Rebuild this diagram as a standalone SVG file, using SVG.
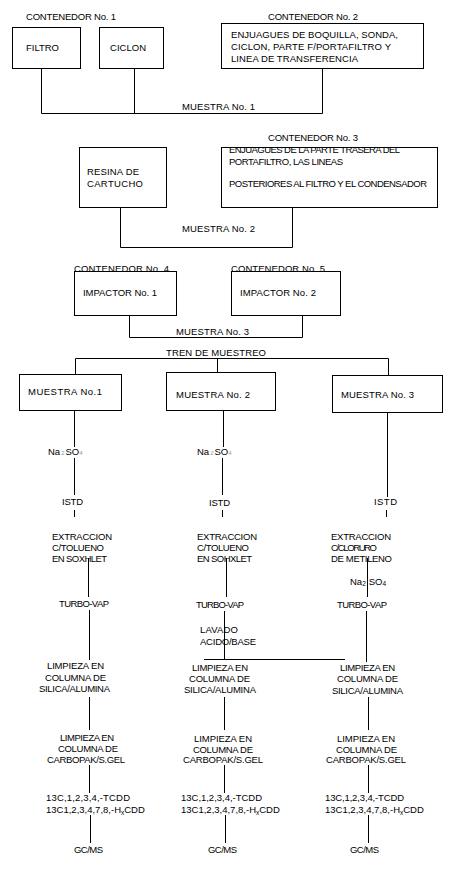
<svg xmlns="http://www.w3.org/2000/svg" width="457" height="880" viewBox="0 0 457 880">
<style>
.t{font-family:"Liberation Sans",Arial,sans-serif;font-size:9.5px;fill:#000}
.box{fill:none;stroke:#000;stroke-width:1}
.c{fill:none;stroke:#000;stroke-width:1}
.sub{font-size:6px;fill:#999}
.subk{font-size:6.5px;fill:#000}
</style>
<rect width="457" height="880" fill="#fff"/>
<g id="connectors">
<path class="c" d="M41.5 68 V113.5 H322.5 V68 M134.5 68 V113.5"/>
<path class="c" d="M120.5 207 V247.5 H292.5 V207"/>
<path class="c" d="M129.5 315 V337.5 H302.5 V315"/>
<path class="c" d="M75.5 374 V358.5 H388.5 V375 M217.5 358.5 V372"/>
<path class="c" d="M74.5 410 V447 M74.5 458 V495 M74.5 510 V517 M88.5 558 V597 M89.5 610 V660 M89.5 697 V730 M89.5 765 V793 M90.5 815 V843"/>
<path class="c" d="M223.5 410 V447 M222.5 458 V495 M222.5 510 V517 M226.5 558 V597 M224.5 611 V660 M224.5 697 V730 M224.5 765 V793 M225.5 815 V843"/>
<path class="c" d="M204 659.5 H345"/>
<path class="c" d="M387.5 412 V497 M386.5 510 V517 M367.5 558 V597 M366.5 611 V662 M368.5 697 V730 M368.5 765 V793 M368.5 815 V843"/>
</g>
<g id="lbl-contenedor1"><text class="t" x="26" y="20" textLength="90">CONTENEDOR No. 1</text></g>
<g id="filtro"><rect class="box" x="12.5" y="27.5" width="68" height="41"/><text class="t" x="26" y="51" textLength="33">FILTRO</text></g>
<g id="ciclon"><rect class="box" x="99.5" y="27.5" width="64" height="41"/><text class="t" x="110" y="51" textLength="36">CICLON</text></g>
<g id="lbl-contenedor2"><text class="t" x="268" y="20" textLength="90">CONTENEDOR No. 2</text></g>
<g id="enjuagues1"><rect class="box" x="221.5" y="23.5" width="202" height="45"/>
<text class="t" x="231" y="38" textLength="167">ENJUAGUES DE BOQUILLA, SONDA,</text>
<text class="t" x="231" y="50" textLength="160">CICLON, PARTE F/PORTAFILTRO Y</text>
<text class="t" x="231" y="62" textLength="127">LINEA DE TRANSFERENCIA</text></g>
<g id="lbl-muestra1"><text class="t" x="182" y="110" textLength="73">MUESTRA No. 1</text></g>
<g id="lbl-contenedor3"><text class="t" x="268" y="141" textLength="90">CONTENEDOR No. 3</text></g>
<g id="resina"><rect class="box" x="79.5" y="147.5" width="87" height="60"/>
<text class="t" x="87" y="175" textLength="52">RESINA DE</text>
<text class="t" x="87" y="187" textLength="56">CARTUCHO</text></g>
<g id="enjuagues2"><rect class="box" x="221.5" y="147.5" width="216" height="60"/>
<text class="t" x="229" y="153" textLength="171">ENJUAGUES DE LA PARTE TRASERA DEL</text>
<text class="t" x="229" y="165" textLength="114">PORTAFILTRO, LAS LINEAS</text>
<text class="t" x="229" y="187" textLength="198">POSTERIORES AL FILTRO Y EL CONDENSADOR</text></g>
<g id="lbl-muestra2"><text class="t" x="182" y="232" textLength="73">MUESTRA No. 2</text></g>
<g id="impactor1"><text class="t" x="74" y="272" textLength="95">CONTENEDOR No. 4</text><rect class="box" x="74.5" y="271.5" width="102" height="44"/><text class="t" x="83" y="296" textLength="74">IMPACTOR No. 1</text></g>
<g id="impactor2"><text class="t" x="231" y="272" textLength="94">CONTENEDOR No. 5</text><rect class="box" x="231.5" y="271.5" width="109" height="44"/><text class="t" x="240" y="296" textLength="76">IMPACTOR No. 2</text></g>
<g id="lbl-muestra3"><text class="t" x="176" y="335" textLength="73">MUESTRA No. 3</text></g>
<g id="lbl-tren"><text class="t" x="166" y="356" textLength="100">TREN DE MUESTREO</text></g>
<g id="muestra-a"><rect class="box" x="19.5" y="374.5" width="102" height="36"/><text class="t" x="28" y="395" textLength="74">MUESTRA No.1</text></g>
<g id="muestra-b"><rect class="box" x="166.5" y="372.5" width="109" height="38"/><text class="t" x="176" y="398" textLength="74">MUESTRA No. 2</text></g>
<g id="muestra-c"><rect class="box" x="332.5" y="375.5" width="110" height="37"/><text class="t" x="341" y="398" textLength="73">MUESTRA No. 3</text></g>
<g id="c1-na2so4"><text class="t" x="48" y="455">Na<tspan class="sub" dx="1">2</tspan><tspan dx="1">SO</tspan><tspan class="sub">4</tspan></text></g>
<g id="c1-istd"><text class="t" x="62" y="505" textLength="21">ISTD</text></g>
<g id="c1-extraccion"><text class="t" x="52" y="540" textLength="60">EXTRACCION</text><text class="t" x="52" y="551" textLength="52">C/TOLUENO</text><text class="t" x="52" y="562" textLength="55">EN SOXHLET</text></g>
<g id="c1-turbovap"><text class="t" x="59" y="607" textLength="50">TURBO-VAP</text></g>
<g id="c1-silica"><text class="t" x="47" y="669" textLength="57">LIMPIEZA EN</text><text class="t" x="45" y="681" textLength="61">COLUMNA DE</text><text class="t" x="39" y="692" textLength="71">SILICA/ALUMINA</text></g>
<g id="c1-carbopak"><text class="t" x="60" y="741" textLength="54">LIMPIEZA EN</text><text class="t" x="58" y="752" textLength="60">COLUMNA DE</text><text class="t" x="47" y="763" textLength="78">CARBOPAK/S.GEL</text></g>
<g id="c1-13c"><text class="t" x="46" y="801" textLength="84">13C,1,2,3,4,-TCDD</text><text class="t" x="46" y="813">13C1,2,3,4,7,8,-H<tspan class="subk" dy="1.5">x</tspan><tspan dy="-1.5">CDD</tspan></text></g>
<g id="c1-gcms"><text class="t" x="74" y="853" textLength="29">GC/MS</text></g>
<g id="c2-na2so4"><text class="t" x="197" y="455">Na<tspan class="sub" dx="1">2</tspan><tspan dx="1">SO</tspan><tspan class="sub">4</tspan></text></g>
<g id="c2-istd"><text class="t" x="209" y="506" textLength="21">ISTD</text></g>
<g id="c2-extraccion"><text class="t" x="197" y="540" textLength="60">EXTRACCION</text><text class="t" x="197" y="551" textLength="52">C/TOLUENO</text><text class="t" x="197" y="562" textLength="55">EN SOHXLET</text></g>
<g id="c2-turbovap"><text class="t" x="196" y="608" textLength="48">TURBO-VAP</text></g>
<g id="c2-lavado"><text class="t" x="200" y="633" textLength="38">LAVADO</text><text class="t" x="200" y="645" textLength="56">ACIDO/BASE</text></g>
<g id="c2-silica"><text class="t" x="192" y="671" textLength="56">LIMPIEZA EN</text><text class="t" x="189" y="682" textLength="61">COLUMNA DE</text><text class="t" x="184" y="693" textLength="72">SILICA/ALUMINA</text></g>
<g id="c2-carbopak"><text class="t" x="194" y="742" textLength="58">LIMPIEZA EN</text><text class="t" x="193" y="753" textLength="60">COLUMNA DE</text><text class="t" x="183" y="763" textLength="80">CARBOPAK/S.GEL</text></g>
<g id="c2-13c"><text class="t" x="181" y="801" textLength="81">13C,1,2,3,4,-TCDD</text><text class="t" x="181" y="813">13C1,2,3,4,7,8,-H<tspan class="subk" dy="1.5">x</tspan><tspan dy="-1.5">CDD</tspan></text></g>
<g id="c2-gcms"><text class="t" x="208" y="853" textLength="29">GC/MS</text></g>
<g id="c3-istd"><text class="t" x="374" y="505" textLength="23">ISTD</text></g>
<g id="c3-extraccion"><text class="t" x="331" y="540" textLength="60">EXTRACCION</text><text class="t" x="331" y="551" textLength="46">C/CLORURO</text><text class="t" x="331" y="562" textLength="61">DE METILENO</text></g>
<g id="c3-na2so4"><text class="t" x="350" y="585">Na<tspan class="subk" dy="1">2</tspan><tspan dx="3" dy="-1">SO</tspan><tspan class="subk" dy="1">4</tspan></text></g>
<g id="c3-turbovap"><text class="t" x="337" y="608" textLength="50">TURBO-VAP</text></g>
<g id="c3-silica"><text class="t" x="340" y="671" textLength="55">LIMPIEZA EN</text><text class="t" x="337" y="682" textLength="61">COLUMNA DE</text><text class="t" x="332" y="694" textLength="71">SILICA/ALUMINA</text></g>
<g id="c3-carbopak"><text class="t" x="337" y="742" textLength="58">LIMPIEZA EN</text><text class="t" x="336" y="753" textLength="61">COLUMNA DE</text><text class="t" x="326" y="763" textLength="80">CARBOPAK/S.GEL</text></g>
<g id="c3-13c"><text class="t" x="325" y="801" textLength="79">13C,1,2,3,4,-TCDD</text><text class="t" x="325" y="813">13C1,2,3,4,7,8,-H<tspan class="subk" dy="1.5">x</tspan><tspan dy="-1.5">CDD</tspan></text></g>
<g id="c3-gcms"><text class="t" x="350" y="853" textLength="29">GC/MS</text></g>
</svg>
